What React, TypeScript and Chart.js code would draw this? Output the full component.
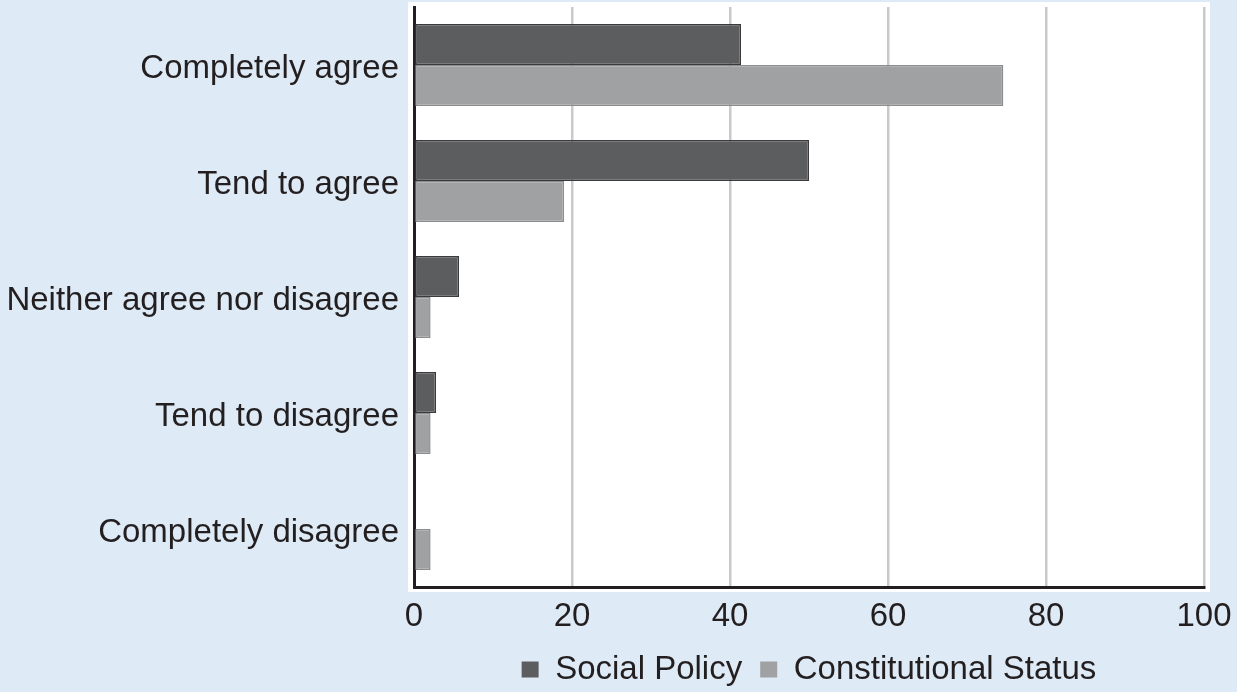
import React, { useEffect, useRef } from "react";
import { Chart, registerables } from "chart.js";

Chart.register(...registerables);

const categories = [
  "Completely agree",
  "Tend to agree",
  "Neither agree nor disagree",
  "Tend to disagree",
  "Completely disagree",
];
const socialPolicy = [41.4, 50, 5.7, 2.8, 0];
const constitutionalStatus = [74.6, 19, 2.1, 2.1, 2.1];
const xTicks = [0, 20, 40, 60, 80, 100];

const FONT = "'Liberation Sans', Arial, Helvetica, sans-serif";
const TEXT = "#231f20";
const BG = "#deeaf6";

const panelPlugin = {
  id: "panel",
  beforeDraw(chart: any) {
    const { ctx, chartArea, width, height } = chart;
    ctx.save();
    ctx.fillStyle = BG;
    ctx.fillRect(0, 0, width, height);
    ctx.fillStyle = "#ffffff";
    ctx.fillRect(
      chartArea.left - 6,
      chartArea.top - 5,
      chartArea.right - chartArea.left + 12,
      chartArea.bottom - chartArea.top + 10
    );
    ctx.restore();
  },
};

export default function App() {
  const ref = useRef<HTMLCanvasElement | null>(null);
  useEffect(() => {
    if (!ref.current) return;
    const chart = new Chart(ref.current, {
      type: "bar",
      data: {
        labels: categories,
        datasets: [
          {
            label: "Social Policy",
            data: socialPolicy,
            backgroundColor: "#5c5d5f",
            borderColor: "#3a3a3c",
            borderWidth: 1.5,
            borderSkipped: false,
            categoryPercentage: 0.707,
            barPercentage: 1,
          },
          {
            label: "Constitutional Status",
            data: constitutionalStatus,
            backgroundColor: "#a0a1a3",
            borderColor: "#8c8d8f",
            borderWidth: 1.5,
            borderSkipped: false,
            categoryPercentage: 0.707,
            barPercentage: 1,
          },
        ],
      },
      options: {
        indexAxis: "y",
        animation: false,
        responsive: false,
        maintainAspectRatio: false,
        layout: { padding: { top: 7, right: 33, left: 0, bottom: 0 } },
        scales: {
          x: {
            min: 0,
            max: 100,
            afterBuildTicks: (scale: any) => {
              scale.ticks = xTicks.map((v) => ({ value: v }));
            },
            afterFit: (scale: any) => {
              scale.height = 48;
              scale.paddingLeft = 0;
              scale.paddingRight = 0;
            },
            grid: { color: "#c9c9c9", lineWidth: 2.5, drawTicks: false },
            border: { display: true, color: "#231f20", width: 3 },
            ticks: {
              padding: 13,
              color: TEXT,
              font: { family: FONT, size: 33, lineHeight: 1 },
            },
          },
          y: {
            afterFit: (scale: any) => {
              scale.width = 414;
              scale.paddingTop = 0;
              scale.paddingBottom = 0;
            },
            grid: { display: false, drawTicks: false },
            border: { display: true, color: "#231f20", width: 3 },
            ticks: {
              padding: 15,
              labelOffset: 4,
              color: TEXT,
              font: { family: FONT, size: 33 },
            },
          },
        },
        plugins: {
          legend: {
            position: "bottom",
            fullSize: false,
            labels: {
              boxWidth: 17,
              boxHeight: 16,
              padding: 18,
              color: TEXT,
              font: { family: FONT, size: 33 },
              generateLabels: (c: any) =>
                c.data.datasets.map((d: any, i: number) => ({
                  text: d.label,
                  fillStyle: d.backgroundColor,
                  strokeStyle: d.backgroundColor,
                  lineWidth: 0,
                  fontColor: TEXT,
                  datasetIndex: i,
                  hidden: false,
                })),
            },
          },
          tooltip: { enabled: false },
        },
      },
      plugins: [panelPlugin],
    });
    return () => chart.destroy();
  }, []);
  return (
    <div
      style={{
        position: "fixed",
        left: 0,
        top: 0,
        width: 1237,
        height: 692,
        overflow: "hidden",
        background: BG,
      }}
    >
      <canvas ref={ref} width={1237} height={696} style={{ display: "block" }} />
    </div>
  );
}
